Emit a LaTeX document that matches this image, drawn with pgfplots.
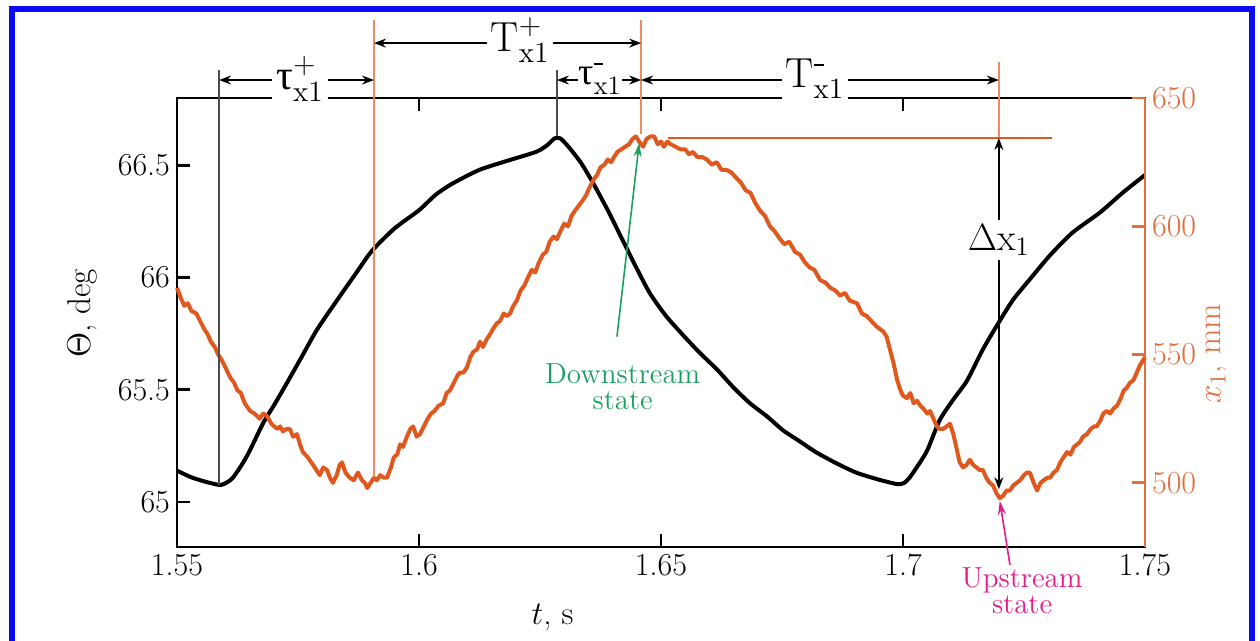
\documentclass[border=0pt]{standalone}
\usepackage{fix-cm}
\usepackage{fontspec}
\usepackage{amsmath}
\usepackage{pgfplots}
\pgfplotsset{compat=1.18}
\usetikzlibrary{arrows.meta}
\newfontfamily\grk{Liberation Serif}
\newcommand{\dsh}{\rule[0.35ex]{0.24em}{0.05em}}
\definecolor{myorange}{RGB}{224,88,30}
\definecolor{axorange}{RGB}{226,112,62}
\definecolor{thinorange}{RGB}{236,140,100}
\definecolor{mygreen}{RGB}{25,160,95}
\definecolor{mymag}{RGB}{228,25,140}
\definecolor{myblue}{RGB}{10,10,245}
\begin{document}
\begin{tikzpicture}
\useasboundingbox (0,0) rectangle (630pt,320.5pt);
\draw[myblue, line width=3pt] (5.75pt,-2pt) -- (5.75pt,315.75pt) -- (626pt,315.75pt) -- (626pt,-2pt);
\begin{axis}[
  scale only axis, width=484pt, height=224.5pt,
  at={(88.5pt,47pt)}, anchor=south west,
  xmin=1.55, xmax=1.75, ymin=64.8, ymax=66.8,
  xtick={1.55,1.6,1.65,1.7,1.75},
  ytick={65,65.5,66,66.5},
  ytick pos=left, xtick pos=both,
  tick align=inside,
  major tick length=6.5pt,
  /pgf/number format/assume math mode=true,
  axis line style={line width=1.4pt},
  every tick/.style={black, line width=1.4pt},
  tick label style={font=\fontsize{16}{18}\selectfont},
  xlabel={$t$, s},
  ylabel={$\Theta$, deg},
  label style={font=\fontsize{16.5}{19}\selectfont},
  xlabel style={at={(axis description cs:0.388,-0.158)}, anchor=center},
  ylabel style={at={(axis description cs:-0.098,0.52)}, anchor=center},
  clip=false,
]
\addplot[black, line width=2pt, line join=round, smooth, tension=0.4] coordinates {
(1.5500,65.14) (1.5530,65.11) (1.5560,65.09) (1.5589,65.076) (1.5605,65.09)
(1.5616,65.11) (1.5635,65.17) (1.5651,65.232) (1.5678,65.352) (1.5700,65.43)
(1.5719,65.50) (1.5754,65.633) (1.5789,65.767) (1.5831,65.90) (1.5870,66.02)
(1.5903,66.12) (1.5950,66.22) (1.6000,66.30) (1.6035,66.37) (1.6070,66.42)
(1.6125,66.48) (1.6182,66.52) (1.6242,66.56) (1.6265,66.59) (1.6280,66.62)
(1.6292,66.62) (1.6310,66.58) (1.6335,66.51) (1.6360,66.42) (1.6390,66.30)
(1.6420,66.17) (1.6450,66.04) (1.6477,65.93) (1.6510,65.83) (1.6545,65.745)
(1.6580,65.665) (1.6616,65.59) (1.6650,65.51) (1.6684,65.44) (1.6720,65.38)
(1.6752,65.32) (1.6787,65.27) (1.6822,65.22) (1.6865,65.17) (1.6905,65.13)
(1.6950,65.10) (1.6988,65.08) (1.7002,65.085) (1.7014,65.11) (1.7030,65.16)
(1.7050,65.23) (1.7076,65.366) (1.7105,65.46) (1.7132,65.54) (1.7165,65.68)
(1.7195,65.79) (1.7227,65.90) (1.7265,66.00) (1.7304,66.10) (1.7350,66.20)
(1.7407,66.29) (1.7455,66.38) (1.7500,66.457)
};
\end{axis}
\begin{axis}[
  scale only axis, width=484pt, height=224.5pt,
  at={(88.5pt,47pt)}, anchor=south west,
  xmin=1.55, xmax=1.75, ymin=475, ymax=650,
  axis x line=none, axis y line*=right,
  ytick={500,550,600,650},
  tick align=inside,
  major tick length=6.5pt,
  /pgf/number format/assume math mode=true,
  axis line style={axorange, line width=1.4pt},
  every tick/.style={axorange, line width=1.4pt},
  yticklabel style={axorange, font=\fontsize{16}{18}\selectfont},
  ylabel={$x_1$, mm},
  ylabel style={axorange, font=\fontsize{16.5}{19}\selectfont, at={(axis description cs:1.074,0.43)}, anchor=center},
  clip=false,
]
\addplot[myorange, line width=2pt, line join=round] coordinates {
(1.5500,576) (1.5508,572) (1.5515,569) (1.5522,570) (1.5530,567) (1.5540,566)
(1.5548,563) (1.5556,560) (1.5563,558) (1.5570,555) (1.5578,553) (1.5585,550)
(1.5592,548) (1.5600,545) (1.5610,541) (1.5618,539) (1.5625,536) (1.5632,535)
(1.5640,531) (1.5651,528) (1.5660,527) (1.5671,525) (1.5678,527) (1.5686,526)
(1.5695,523) (1.5707,521) (1.5713,522) (1.5719,520) (1.5726,521) (1.5733,521)
(1.5740,518) (1.5748,519) (1.5754,515) (1.5760,512) (1.5770,510) (1.5781,507)
(1.5788,505) (1.5795,503) (1.5802,506) (1.5810,505) (1.5816,502) (1.5822,500)
(1.5830,503) (1.5836,507) (1.5841,508) (1.5848,504) (1.5857,502) (1.5865,501)
(1.5874,504) (1.5882,501) (1.5888,500) (1.5893,498) (1.5900,500) (1.5907,502)
(1.5913,501) (1.5920,503) (1.5927,502) (1.5934,502) (1.5942,506) (1.5948,510)
(1.5955,511) (1.5961,515) (1.5967,514) (1.5975,518) (1.5982,521) (1.5988,522)
(1.5995,518) (1.6002,519) (1.6010,522) (1.6018,525) (1.6025,527) (1.6032,528)
(1.6040,530) (1.6050,531) (1.6057,535) (1.6064,536) (1.6072,539) (1.6080,542)
(1.6085,543) (1.6092,543) (1.6099,545) (1.6106,549) (1.6112,551) (1.6120,552)
(1.6126,555) (1.6132,553) (1.6140,556) (1.6147,558) (1.6153,560) (1.6160,562)
(1.6167,563) (1.6175,566) (1.6182,565) (1.6188,566) (1.6195,569) (1.6202,571)
(1.6210,575) (1.6218,577) (1.6225,580) (1.6233,583) (1.6240,582) (1.6248,586)
(1.6256,589) (1.6263,590) (1.6270,594) (1.6278,596) (1.6285,595) (1.6292,598)
(1.6300,601) (1.6308,600) (1.6315,604) (1.6322,606) (1.6330,608) (1.6338,610)
(1.6345,612) (1.6352,615) (1.6360,618) (1.6368,620) (1.6375,623) (1.6383,624)
(1.6390,626) (1.6397,625) (1.6403,627) (1.6410,629) (1.6418,630) (1.6426,631)
(1.6434,632) (1.6441,634) (1.6448,635) (1.6455,633) (1.6463,631) (1.6470,634)
(1.6478,635) (1.6486,635) (1.6493,632) (1.6500,633) (1.6506,631) (1.6513,633)
(1.6520,632) (1.6530,631) (1.6540,630) (1.6550,630) (1.6558,628) (1.6566,629)
(1.6575,627) (1.6585,627) (1.6595,626) (1.6605,624) (1.6615,625) (1.6625,622)
(1.6635,622) (1.6645,621) (1.6655,619) (1.6665,617) (1.6675,614) (1.6685,613)
(1.6695,609) (1.6705,606) (1.6715,604) (1.6725,600) (1.6735,598) (1.6746,595)
(1.6755,593) (1.6765,594) (1.6777,590) (1.6787,589) (1.6797,586) (1.6807,584)
(1.6817,583) (1.6829,579) (1.6840,578) (1.6850,576) (1.6860,575) (1.6870,573)
(1.6880,574) (1.6890,571) (1.6905,570) (1.6915,566) (1.6925,565) (1.6935,563)
(1.6945,561) (1.6959,559) (1.6966,557) (1.6973,552) (1.6980,547) (1.6988,540)
(1.6995,536) (1.7000,534) (1.7008,533) (1.7015,535) (1.7022,531) (1.7029,532)
(1.7036,530) (1.7042,529) (1.7050,527) (1.7056,528) (1.7063,525) (1.7070,522)
(1.7076,521) (1.7083,521) (1.7090,522) (1.7097,523) (1.7104,519) (1.7110,514)
(1.7117,508) (1.7124,506) (1.7131,507) (1.7138,509) (1.7145,507) (1.7152,506)
(1.7158,505) (1.7165,505) (1.7172,502) (1.7179,500) (1.7186,499) (1.7193,496)
(1.7200,494) (1.7207,495) (1.7214,497) (1.7221,497) (1.7228,499) (1.7235,500)
(1.7242,501) (1.7250,503) (1.7256,504) (1.7262,504) (1.7270,500) (1.7277,497)
(1.7284,500) (1.7291,501) (1.7298,502) (1.7304,502) (1.7311,504) (1.7318,505)
(1.7325,508) (1.7332,510) (1.7339,512) (1.7346,511) (1.7353,514) (1.7360,515)
(1.7366,516) (1.7372,518) (1.7380,519) (1.7388,521) (1.7395,522) (1.7400,522)
(1.7407,524) (1.7414,527) (1.7421,528) (1.7428,527) (1.7435,529) (1.7442,530)
(1.7450,533) (1.7456,536) (1.7462,537) (1.7469,539) (1.7476,540) (1.7483,543)
(1.7490,546) (1.7500,549)
};
% vertical reference lines
\draw[black!70, line width=0.8pt] (axis cs:1.5587,661) -- (axis cs:1.5587,499.2);
\draw[thinorange, line width=0.8pt] (axis cs:1.5907,680.4) -- (axis cs:1.5907,502.3);
\draw[black!70, line width=0.8pt] (axis cs:1.6285,661) -- (axis cs:1.6285,635);
\draw[thinorange, line width=0.8pt] (axis cs:1.6459,680.4) -- (axis cs:1.6459,636);
\draw[thinorange, line width=0.8pt] (axis cs:1.7198,664) -- (axis cs:1.7198,634.4);
\draw[myorange, line width=1pt] (axis cs:1.6514,634.4) -- (axis cs:1.7308,634.4);
% interval arrows
\tikzset{iv/.style={black, line width=0.7pt, {Stealth[length=6pt,width=4.5pt]}-{Stealth[length=6pt,width=4.5pt]}}}
\draw[iv] (axis cs:1.5587,657) -- (axis cs:1.5907,657);
\draw[iv] (axis cs:1.5907,671.4) -- (axis cs:1.6459,671.4);
\draw[iv] (axis cs:1.6285,657) -- (axis cs:1.6459,657);
\draw[iv] (axis cs:1.6459,657) -- (axis cs:1.7198,657);
\tikzset{ivl/.style={fill=white, inner sep=2pt, font=\fontsize{21}{23}\selectfont}}
\node[ivl] at (axis cs:1.5754,657.5) {{\grk τ}$_{\mathrm{x1}}^{+}$};
\node[ivl] at (axis cs:1.6209,672.5) {$\mathrm{T}_{\mathrm{x1}}^{+}$};
\node[ivl, inner sep=0.3pt, font=\fontsize{19}{21}\selectfont] at (axis cs:1.6374,657.5) {{\grk τ}$_{\mathrm{x1}}^{\dsh}$};
\node[ivl] at (axis cs:1.6818,657.5) {$\mathrm{T}_{\mathrm{x1}}^{\dsh}$};
% delta x1
\draw[iv] (axis cs:1.7198,634.4) -- (axis cs:1.7198,497.5);
\node[ivl, font=\fontsize{19}{21}\selectfont] at (axis cs:1.7198,594.7) {$\Delta\mathrm{x}_{1}$};
% state annotations
\draw[mygreen, line width=0.8pt, -{Stealth[length=7pt,width=4pt]}] (axis cs:1.6409,557) -- (axis cs:1.6455,632.5);
\node[mygreen, align=center, font=\fontsize{14.5}{13}\selectfont\addfontfeatures{LetterSpace=11}] at (axis cs:1.6421,537.6) {Downstream\\state};
\draw[mymag, line width=0.8pt, -{Stealth[length=7pt,width=4pt]}] (axis cs:1.7221,468) -- (axis cs:1.7200,493);
\node[mymag, align=center, font=\fontsize{14.5}{13}\selectfont\addfontfeatures{LetterSpace=11}] at (axis cs:1.7246,457.9) {Upstream\\state};
\end{axis}
\end{tikzpicture}
\end{document}
